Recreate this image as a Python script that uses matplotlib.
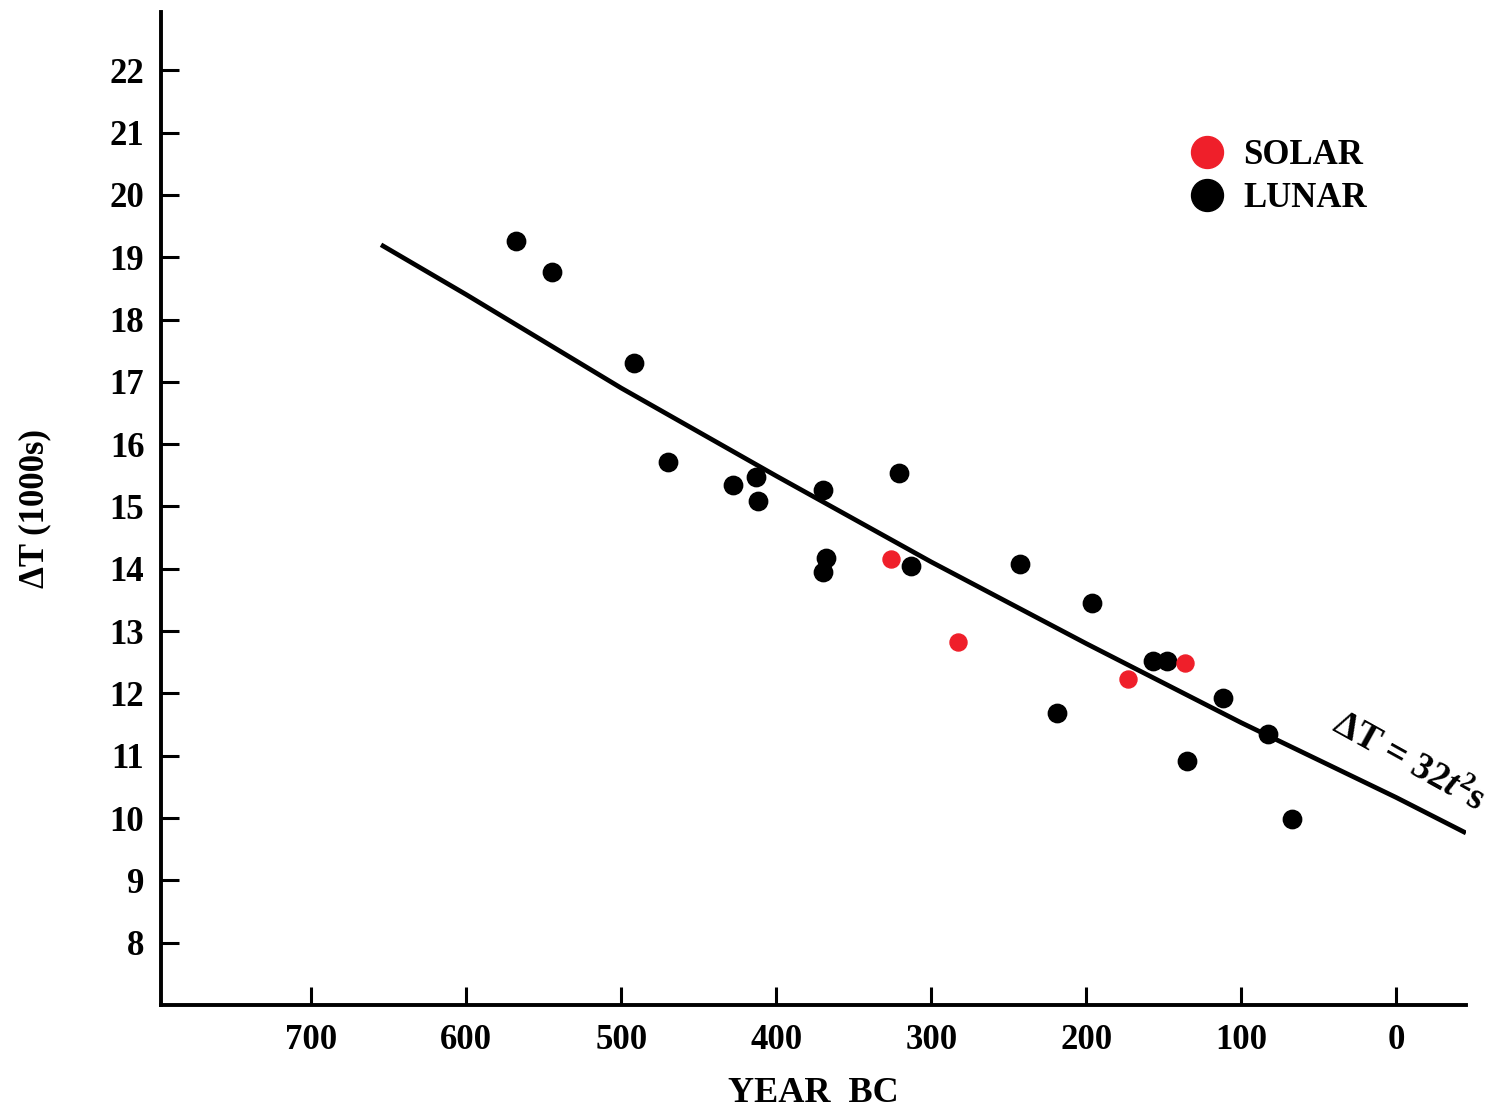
import matplotlib
matplotlib.use("Agg")
from matplotlib import pyplot as plt
from matplotlib.lines import Line2D

plt.rcParams["font.family"] = ["Liberation Serif", "DejaVu Serif"]
plt.rcParams["font.weight"] = "bold"
plt.rcParams["axes.labelweight"] = "bold"
plt.rcParams["mathtext.fontset"] = "custom"
plt.rcParams["mathtext.rm"] = "Liberation Serif:bold"
plt.rcParams["mathtext.it"] = "Liberation Serif:bold:italic"

# Lunar eclipse observations (year BC, Delta T in 1000s of seconds)
lunar_year = [568, 545, 492, 470, 428, 413, 412, 370, 368, 370, 321, 313,
              243, 196, 219, 157, 148, 112, 135, 83, 67]
lunar_dt = [19.26, 18.76, 17.30, 15.71, 15.34, 15.48, 15.09, 15.27, 14.18,
            13.95, 15.54, 14.05, 14.08, 13.45, 11.69, 12.52, 12.52, 11.93,
            10.91, 11.35, 9.98]

# Solar eclipse observations
solar_year = [326, 283, 173, 136]
solar_dt = [14.16, 12.82, 12.23, 12.49]

# Fitted curve
curve_year = [655, 600, 500, 400, 300, 200, 100, 0, -45]
curve_dt = [19.20, 18.40, 16.90, 15.49, 14.11, 12.80, 11.53, 10.33, 9.76]

x_ticks = [700, 600, 500, 400, 300, 200, 100, 0]
y_ticks = list(range(8, 23))

red = "#ef1f2a"

fig = plt.figure(figsize=(15, 11.17), dpi=100)
ax = fig.add_axes([0.1073, 0.1003, 0.870, 0.8892])

ax.plot(curve_year, curve_dt, color="black", linewidth=3.4, solid_capstyle="butt")
ax.scatter(lunar_year, lunar_dt, s=175, color="black", zorder=3)
ax.scatter(solar_year, solar_dt, s=150, color=red, zorder=3)

ax.set_xlim(797, -45)
ax.set_ylim(7.0, 22.94)
ax.set_xticks(x_ticks)
ax.set_yticks(y_ticks)
ax.tick_params(direction="in", length=13, width=2.2, labelsize=25, pad=14)
ax.tick_params(axis="y", pad=12)

for side in ["top", "right"]:
    ax.spines[side].set_visible(False)
for side in ["left", "bottom"]:
    ax.spines[side].set_linewidth(2.8)

ax.set_xlabel("YEAR  BC", fontsize=26, fontweight="bold", labelpad=14)
ax.set_ylabel("ΔT (1000s)", fontsize=25, fontweight="bold", labelpad=42)

ax.text(-8, 10.88, r"ΔT = 32$\mathit{t}^{2}$s", fontsize=27, rotation=-29,
        ha="center", va="center", rotation_mode="anchor")

handles = [
    Line2D([], [], linestyle="", marker="o", markersize=23, color=red, label="SOLAR"),
    Line2D([], [], linestyle="", marker="o", markersize=23, color="black", label="LUNAR"),
]
ax.legend(handles=handles, loc="upper left", bbox_to_anchor=(0.764, 0.903),
          frameon=False, fontsize=25, handletextpad=0.55, labelspacing=0.28,
          handlelength=1.0)

fig.savefig("out.png", dpi=100, facecolor="white")
